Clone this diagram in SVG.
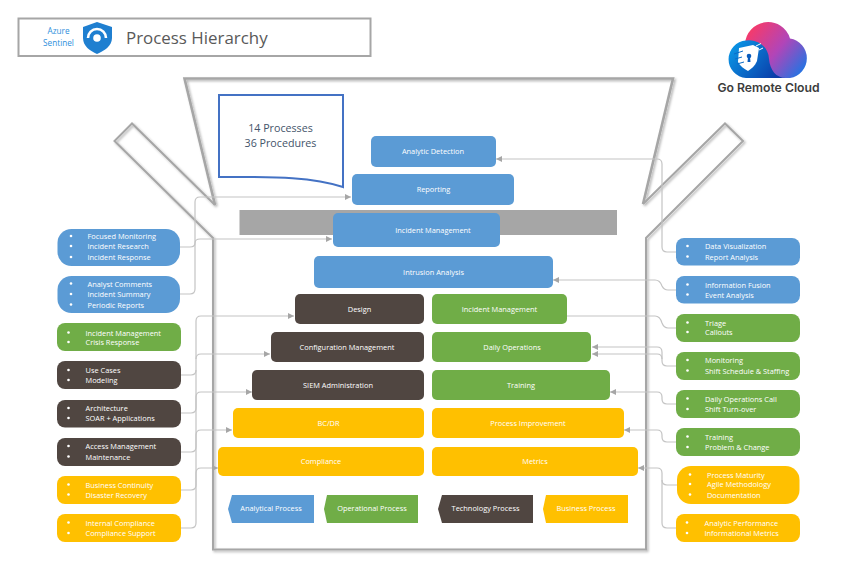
<svg xmlns="http://www.w3.org/2000/svg" width="860" height="577" viewBox="0 0 860 577">
<style>
text{font-family:"Open Sans","Noto Sans","Liberation Sans",sans-serif}
.n{font-size:7.4px;fill:#fff;text-anchor:middle}
.l{font-size:7.4px;fill:#fff}
.b{fill:#5b9bd5}.g{fill:#70ad47}.d{fill:#504641}.y{fill:#ffc000}
.dot{fill:#fff}
.c{fill:none;stroke:#c4c4c4;stroke-width:1.2}
.o{fill:none;stroke:#a6a6a6;stroke-linejoin:miter}
</style>
<defs>
<marker id="ah" markerUnits="userSpaceOnUse" markerWidth="7" markerHeight="6" refX="6" refY="3" orient="auto"><path d="M0,0L6,3L0,6Z" fill="#a6a6a6"/></marker>
<filter id="sh" x="-5%" y="-5%" width="110%" height="110%"><feDropShadow dx="1.5" dy="1.5" stdDeviation="1.2" flood-color="#000" flood-opacity="0.3"/></filter>
<linearGradient id="cg" gradientUnits="userSpaceOnUse" x1="750" y1="28" x2="806" y2="72"><stop offset="0" stop-color="#f83a68"/><stop offset="0.5" stop-color="#b145b8"/><stop offset="1" stop-color="#1877e6"/></linearGradient>
<linearGradient id="cb" gradientUnits="userSpaceOnUse" x1="732" y1="44" x2="775" y2="78"><stop offset="0" stop-color="#0a96e6"/><stop offset="1" stop-color="#0a3ca8"/></linearGradient>
</defs>

<g id="header">
<rect x="18.500" y="18.500" width="352" height="37.500" fill="#fff" stroke="#a6a6a6" stroke-width="2"/>
<text x="58.500" y="34" font-size="8.200" fill="#2e8fdc" text-anchor="middle">Azure</text>
<text x="58.500" y="46" font-size="8.200" fill="#2e8fdc" text-anchor="middle">Sentinel</text>
<path d="M83,27L97,22L112,27V38C112,46 104,51 97,54C90,51 83,46 83,38Z" fill="#1f7fd0"/>
<circle cx="97" cy="38" r="3.800" fill="#fff"/>
<path d="M88,38A9,9 0 0 1 106,38" fill="none" stroke="#fff" stroke-width="2.600"/>
<text x="126" y="43.500" font-size="16.900" fill="#595959">Process Hierarchy</text>
</g>

<g id="logo">
<path d="M745,44A23,23 0 0 1 790,38.500A20,20 0 0 1 790,78H746Z" fill="url(#cg)"/>
<path d="M746,40.500A20,19 0 0 1 769,59C770,70 776,78 786,78H746A18.800,18.800 0 0 1 746,40.500Z" fill="url(#cb)"/>
<path d="M739,48L753,45L759,48L757,61C755,66 751,69 748,71C744,69 740,66 738,62Z" fill="#fff"/>
<circle cx="749" cy="56" r="2.300" fill="#0a5cbc"/>
<path d="M748,57H750L750.500,62H747.500Z" fill="#0a5cbc"/>
<path d="M734,54L743,51M735,59L742,57M737,64L744,62" stroke="#0a6cc8" stroke-width="1" fill="none"/>
<path d="M756,46L761,43.500M759,50L763,48" stroke="#fff" stroke-width="1" fill="none"/>
<text x="768.500" y="91.500" font-size="12.200" font-weight="600" fill="#3c3c3c" text-anchor="middle" style="font-family:Inter,'Liberation Sans',sans-serif">Go Remote Cloud</text>
</g>

<g id="box" filter="url(#sh)">
<path class="o" stroke-width="2.600" d="M215,205L184.500,78.500H673L643,204"/>
<path class="o" stroke-width="2" d="M215,205L132,123.500L114.500,141L213,238V549.500H646V238L743,141L725,123.500L643,204"/>
</g>

<g id="note">
<path d="M219,95H343V187C310,176 270,177 219,177Z" fill="#fff" stroke="#4472c4" stroke-width="2"/>
<text x="280.500" y="132" font-size="10.700" fill="#44546a" text-anchor="middle">14 Processes</text>
<text x="280.500" y="147" font-size="10.700" fill="#44546a" text-anchor="middle">36 Procedures</text>
</g>

<rect id="band" x="239.500" y="210" width="377.500" height="25" fill="#a6a6a6"/>

<g id="connectors">
<path class="c" marker-end="url(#ah)" d="M180,247H190Q195,247 195,243Q195,239 200,239H332"/>
<path class="c" marker-end="url(#ah)" d="M180,294H190Q195,294 195,289V202Q195,197 200,197H351"/>
<path class="c" marker-end="url(#ah)" d="M181,375H191Q196,375 196,370V321Q196,316 201,316H294"/>
<path class="c" marker-end="url(#ah)" d="M196,359Q196,354 201,354H270"/>
<path class="c" marker-end="url(#ah)" d="M181,413H191Q196,413 196,408V397Q196,392 201,392H252"/>
<path class="c" marker-end="url(#ah)" d="M181,452H191Q196,452 196,447V435Q196,430 201,430H232"/>
<path class="c" marker-end="url(#ah)" d="M181,490H191Q196,490 196,485V473Q196,468 201,468H218"/>
<path class="c" d="M181,528H191Q196,528 196,523V370"/>
<path class="c" marker-end="url(#ah)" d="M676,252H667Q662,252 662,247V164Q662,159 657,159H496"/>
<path class="c" marker-end="url(#ah)" d="M676,290H668Q664,290 662,286Q660,280 655,280H553"/>
<path class="c" d="M676,328H668Q664,328 662,323Q660,316 655,316H567"/>
<path class="c" marker-end="url(#ah)" d="M676,366H667Q662,366 662,361V352Q662,347 657,347H592"/>
<path class="c" marker-end="url(#ah)" d="M662,359Q662,354 657,354H592"/>
<path class="c" marker-end="url(#ah)" d="M676,404H667Q662,404 662,399V397Q662,392 657,392H610"/>
<path class="c" marker-end="url(#ah)" d="M676,442H667Q662,442 662,437V435Q662,430 657,430H624"/>
<path class="c" marker-end="url(#ah)" d="M677,485H667Q662,485 662,480V473Q662,468 657,468H638"/>
<path class="c" d="M676,528H667Q662,528 662,523V480"/>
</g>

<g id="n-analytic-detection"><rect class="b" x="371" y="136" width="125" height="31" rx="5"/><text class="n" x="433" y="154">Analytic Detection</text></g>
<g id="n-reporting"><rect class="b" x="352" y="174" width="162" height="31" rx="5"/><text class="n" x="433.500" y="192">Reporting</text></g>
<g id="n-incident-management"><rect class="b" x="333" y="213" width="167" height="34" rx="5"/><text class="n" x="433" y="232.500">Incident Management</text></g>
<g id="n-intrusion-analysis"><rect class="b" x="314" y="256" width="239" height="32" rx="5"/><text class="n" x="433.500" y="274.500">Intrusion Analysis</text></g>
<g id="n-design"><rect class="d" x="295" y="294" width="129" height="30" rx="5"/><text class="n" x="359.500" y="311.500">Design</text></g>
<g id="n-config"><rect class="d" x="271" y="332" width="153" height="30" rx="5"/><text class="n" x="347" y="349.500">Configuration Management</text></g>
<g id="n-siem"><rect class="d" x="252" y="370" width="172" height="30" rx="5"/><text class="n" x="338" y="387.500">SIEM Administration</text></g>
<g id="n-bcdr"><rect class="y" x="233" y="408" width="191" height="30" rx="5"/><text class="n" x="328.500" y="425.500">BC/DR</text></g>
<g id="n-compliance"><rect class="y" x="218" y="447" width="206" height="29" rx="5"/><text class="n" x="321" y="464">Compliance</text></g>
<g id="n-op-incident"><rect class="g" x="432" y="294" width="135" height="30" rx="5"/><text class="n" x="499.500" y="311.500">Incident Management</text></g>
<g id="n-daily-ops"><rect class="g" x="432" y="332" width="159" height="30" rx="5"/><text class="n" x="512" y="349.500">Daily Operations</text></g>
<g id="n-training"><rect class="g" x="432" y="370" width="178" height="30" rx="5"/><text class="n" x="521" y="387.500">Training</text></g>
<g id="n-process-improvement"><rect class="y" x="432" y="408" width="192" height="30" rx="5"/><text class="n" x="528" y="425.500">Process Improvement</text></g>
<g id="n-metrics"><rect class="y" x="432" y="447" width="206" height="29" rx="5"/><text class="n" x="535" y="464">Metrics</text></g>

<g id="legend-analytical"><path class="b" d="M232,495H314V523H232L228,509Z"/><text class="n" x="271" y="511">Analytical Process</text></g>
<g id="legend-operational"><path class="g" d="M327,495H418V523H327L324,509Z"/><text class="n" x="372" y="511">Operational Process</text></g>
<g id="legend-technology"><path class="d" d="M442,495H533V523H442L438,509Z"/><text class="n" x="485.500" y="511">Technology Process</text></g>
<g id="legend-business"><path class="y" d="M546,495H628V523H546L543,509Z"/><text class="n" x="586" y="511">Business Process</text></g>

<g id="l-monitoring"><rect class="b" x="57.500" y="229" width="122.500" height="37" rx="14"/>
<circle class="dot" cx="71" cy="236" r="1.300"/><circle class="dot" cx="71" cy="246" r="1.300"/><circle class="dot" cx="71" cy="257" r="1.300"/>
<text class="l" x="87.500" y="239">Focused Monitoring</text><text class="l" x="87.500" y="249">Incident Research</text><text class="l" x="87.500" y="260">Incident Response</text></g>
<g id="l-comments"><rect class="b" x="57.500" y="276" width="122.500" height="37" rx="14"/>
<circle class="dot" cx="71" cy="283.500" r="1.300"/><circle class="dot" cx="71" cy="294" r="1.300"/><circle class="dot" cx="71" cy="304.500" r="1.300"/>
<text class="l" x="87.500" y="286.500">Analyst Comments</text><text class="l" x="87.500" y="297">Incident Summary</text><text class="l" x="87.500" y="307.500">Periodic Reports</text></g>
<g id="l-crisis"><rect class="g" x="57" y="323" width="124" height="28" rx="8"/>
<circle class="dot" cx="68.500" cy="332.500" r="1.300"/><circle class="dot" cx="68.500" cy="342" r="1.300"/>
<text class="l" x="85.500" y="335.500">Incident Management</text><text class="l" x="85.500" y="345">Crisis Response</text></g>
<g id="l-usecases"><rect class="d" x="57" y="361" width="124" height="28" rx="8"/>
<circle class="dot" cx="68.500" cy="370" r="1.300"/><circle class="dot" cx="68.500" cy="380" r="1.300"/>
<text class="l" x="85.500" y="373">Use Cases</text><text class="l" x="85.500" y="383">Modeling</text></g>
<g id="l-architecture"><rect class="d" x="57" y="400" width="124" height="27.500" rx="8"/>
<circle class="dot" cx="68.500" cy="408" r="1.300"/><circle class="dot" cx="68.500" cy="418" r="1.300"/>
<text class="l" x="85.500" y="411">Architecture</text><text class="l" x="85.500" y="421">SOAR + Applications</text></g>
<g id="l-access"><rect class="d" x="57" y="438" width="124" height="28" rx="8"/>
<circle class="dot" cx="68.500" cy="446" r="1.300"/><circle class="dot" cx="68.500" cy="456.500" r="1.300"/>
<text class="l" x="85.500" y="449">Access Management</text><text class="l" x="85.500" y="459.500">Maintenance</text></g>
<g id="l-continuity"><rect class="y" x="57" y="476" width="124" height="28" rx="8"/>
<circle class="dot" cx="68.500" cy="484.500" r="1.300"/><circle class="dot" cx="68.500" cy="494.500" r="1.300"/>
<text class="l" x="85.500" y="487.500">Business Continuity</text><text class="l" x="85.500" y="497.500">Disaster Recovery</text></g>
<g id="l-internal"><rect class="y" x="57" y="514" width="124" height="28" rx="8"/>
<circle class="dot" cx="68.500" cy="522.500" r="1.300"/><circle class="dot" cx="68.500" cy="533" r="1.300"/>
<text class="l" x="85.500" y="525.500">Internal Compliance</text><text class="l" x="85.500" y="536">Compliance Support</text></g>

<g id="r-visualization"><rect class="b" x="676" y="238" width="124" height="27.500" rx="8"/>
<circle class="dot" cx="687.500" cy="246" r="1.300"/><circle class="dot" cx="687.500" cy="256.500" r="1.300"/>
<text class="l" x="705" y="249">Data Visualization</text><text class="l" x="705" y="259.500">Report Analysis</text></g>
<g id="r-fusion"><rect class="b" x="676" y="276" width="124" height="27.500" rx="8"/>
<circle class="dot" cx="687.500" cy="284.500" r="1.300"/><circle class="dot" cx="687.500" cy="294.500" r="1.300"/>
<text class="l" x="705" y="287.500">Information Fusion</text><text class="l" x="705" y="298">Event Analysis</text></g>
<g id="r-triage"><rect class="g" x="676" y="314" width="124" height="28" rx="8"/>
<circle class="dot" cx="687.500" cy="322.500" r="1.300"/><circle class="dot" cx="687.500" cy="332" r="1.300"/>
<text class="l" x="705" y="325.500">Triage</text><text class="l" x="705" y="335">Callouts</text></g>
<g id="r-monitoring"><rect class="g" x="676" y="352" width="124" height="28" rx="8"/>
<circle class="dot" cx="687.500" cy="360" r="1.300"/><circle class="dot" cx="687.500" cy="370.500" r="1.300"/>
<text class="l" x="705" y="363">Monitoring</text><text class="l" x="705" y="373.500">Shift Schedule &amp; Staffing</text></g>
<g id="r-daily"><rect class="g" x="676" y="390" width="124" height="28" rx="8"/>
<circle class="dot" cx="687.500" cy="398.500" r="1.300"/><circle class="dot" cx="687.500" cy="409" r="1.300"/>
<text class="l" x="705" y="401.500">Daily Operations Call</text><text class="l" x="705" y="412">Shift Turn-over</text></g>
<g id="r-training"><rect class="g" x="676" y="428" width="124" height="28" rx="8"/>
<circle class="dot" cx="687.500" cy="436.500" r="1.300"/><circle class="dot" cx="687.500" cy="447" r="1.300"/>
<text class="l" x="705" y="439.500">Training</text><text class="l" x="705" y="450">Problem &amp; Change</text></g>
<g id="r-maturity"><rect class="y" x="677" y="466" width="122.500" height="38" rx="14"/>
<circle class="dot" cx="690" cy="474.500" r="1.300"/><circle class="dot" cx="690" cy="484" r="1.300"/><circle class="dot" cx="690" cy="494.500" r="1.300"/>
<text class="l" x="707" y="477.500">Process Maturity</text><text class="l" x="707" y="487">Agile Methodology</text><text class="l" x="707" y="497.500">Documentation</text></g>
<g id="r-performance"><rect class="y" x="676" y="514" width="124" height="28" rx="8"/>
<circle class="dot" cx="687" cy="522.500" r="1.300"/><circle class="dot" cx="687" cy="533" r="1.300"/>
<text class="l" x="704.500" y="525.500">Analytic Performance</text><text class="l" x="704.500" y="536">Informational Metrics</text></g>
</svg>
